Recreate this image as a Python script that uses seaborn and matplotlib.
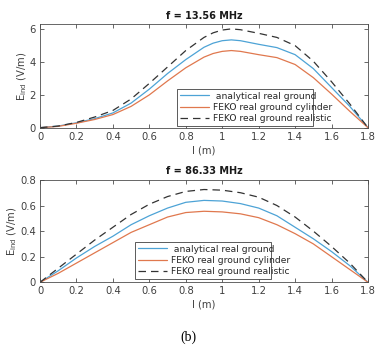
import numpy as np
import pandas as pd
import matplotlib
matplotlib.use("Agg")
import matplotlib.pyplot as plt
import seaborn as sns

# ---------------- data ----------------
l_top = [0.0, 0.1, 0.2, 0.3, 0.4, 0.5, 0.6, 0.7, 0.8, 0.9, 0.95, 1.0, 1.05, 1.1, 1.2, 1.3, 1.4, 1.5, 1.6, 1.7, 1.8]
top_analytical = [0, 0.10, 0.30, 0.55, 0.90, 1.50, 2.35, 3.30, 4.15, 4.90, 5.15, 5.30, 5.35, 5.30, 5.08, 4.88, 4.45, 3.60, 2.45, 1.30, 0]
top_cylinder = [0, 0.08, 0.27, 0.50, 0.80, 1.30, 2.00, 2.85, 3.65, 4.30, 4.52, 4.65, 4.70, 4.65, 4.45, 4.27, 3.85, 3.05, 2.05, 1.00, 0]
top_realistic = [0, 0.10, 0.32, 0.65, 1.05, 1.75, 2.70, 3.70, 4.70, 5.50, 5.78, 5.95, 6.02, 5.97, 5.75, 5.50, 5.00, 4.05, 2.80, 1.45, 0]

l_bot = [0.0, 0.1, 0.2, 0.3, 0.4, 0.5, 0.6, 0.7, 0.8, 0.9, 1.0, 1.1, 1.2, 1.3, 1.4, 1.5, 1.6, 1.7, 1.8]
bot_analytical = [0, 0.09, 0.19, 0.28, 0.36, 0.45, 0.52, 0.58, 0.625, 0.64, 0.635, 0.615, 0.58, 0.52, 0.43, 0.34, 0.24, 0.13, 0]
bot_cylinder = [0, 0.07, 0.15, 0.23, 0.31, 0.39, 0.45, 0.51, 0.545, 0.555, 0.55, 0.535, 0.505, 0.45, 0.38, 0.30, 0.20, 0.10, 0]
bot_realistic = [0, 0.11, 0.22, 0.33, 0.43, 0.53, 0.61, 0.67, 0.71, 0.725, 0.72, 0.70, 0.665, 0.60, 0.51, 0.40, 0.28, 0.15, 0]

labels = [" analytical real ground", "FEKO real ground cylinder", "FEKO real ground realistic"]
titles = ["f = 13.56 MHz", "f = 86.33 MHz"]
xticks = [0, 0.2, 0.4, 0.6, 0.8, 1.0, 1.2, 1.4, 1.6, 1.8]
xticklabels = ["0", "0.2", "0.4", "0.6", "0.8", "1", "1.2", "1.4", "1.6", "1.8"]
yticks_top = [0, 2, 4, 6]
yticks_bot = [0, 0.2, 0.4, 0.6, 0.8]

# ---------------- style ----------------
sns.set_theme(style="white")
plt.rcParams['font.family'] = ['DejaVu Sans']
colors = ['#4da3d6', '#e0784e', '#333333']
styles = ['-', '-', (0, (6, 4))]
axcol = '#4d4d4d'

fig = plt.figure(figsize=(3.76, 3.47), dpi=100)
ax1 = fig.add_axes([0.1064, 0.632, 0.8723, 0.298])
ax2 = fig.add_axes([0.1064, 0.1865, 0.8723, 0.295])

panels = [
    (ax1, l_top, [top_analytical, top_cylinder, top_realistic], (0, 6.3), yticks_top, [str(v) for v in yticks_top],
     (0.418, 0.016, 0.414, 0.34)),
    (ax2, l_bot, [bot_analytical, bot_cylinder, bot_realistic], (0, 0.8), yticks_bot, ["0", "0.2", "0.4", "0.6", "0.8"],
     (0.29, 0.032, 0.414, 0.323)),
]

for i, (ax, lx, series, ylim, yt, ytl, lbb) in enumerate(panels):
    for s, lab, c, ls in zip(series, labels, colors, styles):
        sns.lineplot(x=lx, y=s, ax=ax, color=c, linestyle=ls, linewidth=0.9, label=lab, sort=True, errorbar=None)
    ax.set_xlim(0, 1.8)
    ax.set_ylim(*ylim)
    ax.set_xticks(xticks)
    ax.set_xticklabels(xticklabels)
    ax.set_yticks(yt)
    ax.set_yticklabels(ytl)
    ax.tick_params(direction='in', length=3, width=0.6, colors=axcol, labelsize=7.2, pad=3,
                   top=True, right=True, bottom=True, left=True, labelcolor='#404040')
    for sp in ax.spines.values():
        sp.set_visible(True)
        sp.set_color(axcol)
        sp.set_linewidth(0.6)
    ax.set_title(titles[i], fontsize=7, fontweight='bold', pad=4, color='#1a1a1a')
    ax.set_xlabel("l (m)", fontsize=7.2, color='#404040', labelpad=2.5)
    ax.set_ylabel(r"E$_{\mathrm{ind}}$ (V/m)", fontsize=7.2, color='#404040', labelpad=0.5)
    leg = ax.legend(loc='lower left', bbox_to_anchor=lbb, mode='expand', fontsize=6.6, frameon=True,
                    fancybox=False, framealpha=1, edgecolor='#404040', handlelength=3.2,
                    borderpad=0.3, labelspacing=0.25, handletextpad=0.4, borderaxespad=0)
    leg.get_frame().set_linewidth(0.6)
    for t in leg.get_texts():
        t.set_color('#262626')

fig.text(0.5, 0.029, "(b)", ha='center', va='center', fontsize=10, family='Liberation Serif', color='black')

fig.savefig("out.png", dpi=100)
